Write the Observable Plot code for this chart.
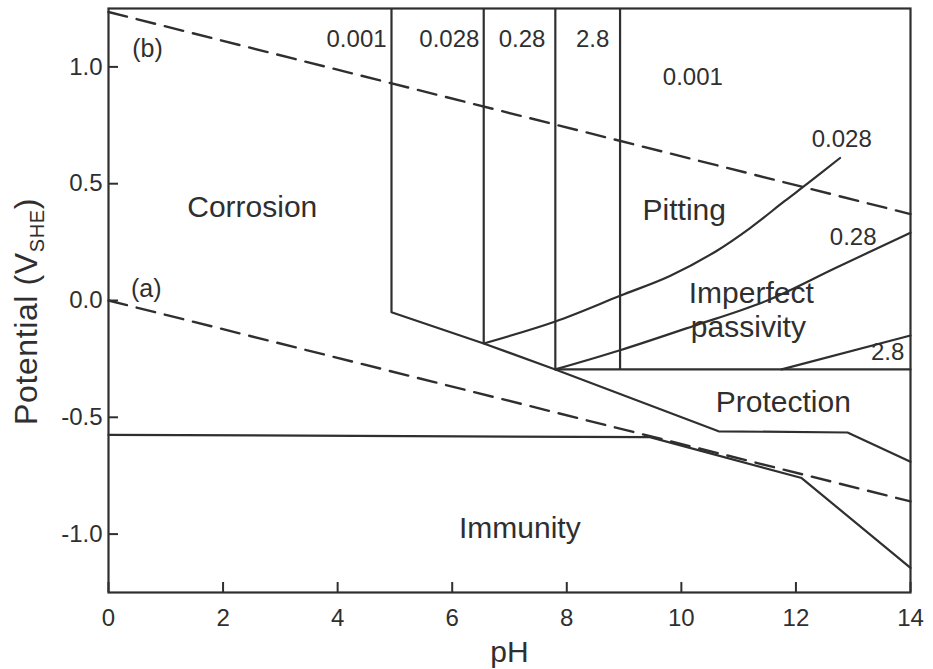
<!DOCTYPE html>
<html><head><meta charset="utf-8">
<script src="https://cdn.jsdelivr.net/npm/d3@7"></script>
<script src="https://cdn.jsdelivr.net/npm/@observablehq/plot@0.6"></script>
<style>body{margin:0;background:#fff;}</style>
</head><body><div id="chart"></div>
<script>
// ---- data (pH, potential V vs SHE) ----
const xTicks = [0, 2, 4, 6, 8, 10, 12, 14];
const yTicks = [-1.0, -0.5, 0.0, 0.5, 1.0];

const waterUpper = [{ph: 0, E: 1.235}, {ph: 14, E: 0.37}];   // (b)
const waterLower = [{ph: 0, E: 0.0}, {ph: 14, E: -0.86}];    // (a)

const pitVerticals = [
  {ph: 4.94, top: 1.25, bottom: -0.05},
  {ph: 6.55, top: 1.25, bottom: -0.184},
  {ph: 7.80, top: 1.25, bottom: -0.295},
  {ph: 8.93, top: 1.25, bottom: -0.295}
];

const passiveBoundary = [
  {ph: 4.94, E: -0.05}, {ph: 6.55, E: -0.184}, {ph: 7.80, E: -0.295},
  {ph: 10.65, E: -0.56}, {ph: 12.9, E: -0.565}, {ph: 14, E: -0.69}
];

const immunityBoundary = [
  {ph: 0, E: -0.575}, {ph: 9.45, E: -0.585}, {ph: 12.1, E: -0.76}, {ph: 14, E: -1.145}
];

const protectionTop = [{ph: 7.80, E: -0.295}, {ph: 14, E: -0.295}];

const curve0028 = [
  {ph: 6.55, E: -0.184}, {ph: 7.80, E: -0.09}, {ph: 8.93, E: 0.02}, {ph: 9.8, E: 0.105},
  {ph: 10.6, E: 0.21}, {ph: 11.2, E: 0.31}, {ph: 11.8, E: 0.425}, {ph: 12.2, E: 0.50},
  {ph: 12.77, E: 0.61}
];

const curve028 = [
  {ph: 7.80, E: -0.295}, {ph: 8.93, E: -0.213}, {ph: 10.2, E: -0.11}, {ph: 11.5, E: 0.0},
  {ph: 12.7, E: 0.14}, {ph: 14, E: 0.29}
];

const line28 = [{ph: 11.75, E: -0.295}, {ph: 14, E: -0.15}];

const concLabels = [
  {text: "0.001", ph: 4.33, E: 1.12},
  {text: "0.028", ph: 5.95, E: 1.12},
  {text: "0.28",  ph: 7.22, E: 1.12},
  {text: "2.8",   ph: 8.45, E: 1.12},
  {text: "0.001", ph: 10.2, E: 0.955},
  {text: "0.028", ph: 12.8, E: 0.69},
  {text: "0.28",  ph: 13.0, E: 0.27},
  {text: "2.8",   ph: 13.6, E: -0.22}
];

const regionLabels = [
  {text: "Corrosion",  ph: 2.51,  E: 0.40},
  {text: "Pitting",    ph: 10.05, E: 0.385},
  {text: "Imperfect",  ph: 11.22, E: 0.03},
  {text: "passivity",  ph: 11.17, E: -0.115},
  {text: "Protection", ph: 11.78, E: -0.435},
  {text: "Immunity",   ph: 7.18,  E: -0.975}
];

const lineTags = [
  {text: "(b)", ph: 0.68, E: 1.075},
  {text: "(a)", ph: 0.66, E: 0.05}
];

const xLabel = "pH";
const yLabel = ["Potential (V", "SHE", ")"];

const ink = "#2f2f2f";
const lineOpts = {x: "ph", y: "E", stroke: ink, strokeWidth: 2.2};
const dashOpts = {x: "ph", y: "E", stroke: ink, strokeWidth: 2.4, strokeDasharray: "19,10"};

const W = 933, H = 669, mL = 108, mR = 23, mT = 8, mB = 77;
const tickLen = 10;

const chart = Plot.plot({
  width: W,
  height: H,
  marginLeft: mL,
  marginRight: mR,
  marginTop: mT,
  marginBottom: mB,
  style: {fontFamily: "'Liberation Sans', Arial, sans-serif", color: ink, background: "#fff"},
  x: {domain: [0, 14]},
  y: {domain: [-1.25, 1.25]},
  marks: [
    Plot.axisX({ticks: xTicks, tickSize: 0, tickPadding: 16, fontSize: 24, label: null}),
    Plot.axisY({ticks: yTicks, tickSize: 0, tickPadding: 6, fontSize: 24, label: null,
                tickFormat: d => d.toFixed(1)}),
    // inward tick marks
    Plot.tickX(xTicks, {x: d => d, stroke: ink, strokeWidth: 2, insetTop: (H - mT - mB) - tickLen}),
    Plot.tickY(yTicks, {y: d => d, stroke: ink, strokeWidth: 2, insetRight: (W - mL - mR) - tickLen}),
    Plot.frame({stroke: ink, strokeWidth: 2.2}),
    Plot.line(waterUpper, dashOpts),
    Plot.line(waterLower, dashOpts),
    Plot.ruleX(pitVerticals, {x: "ph", y1: "top", y2: "bottom", stroke: ink, strokeWidth: 2.2}),
    Plot.line(passiveBoundary, lineOpts),
    Plot.line(immunityBoundary, lineOpts),
    Plot.line(protectionTop, lineOpts),
    Plot.line(curve0028, {...lineOpts, curve: "catmull-rom"}),
    Plot.line(curve028, {...lineOpts, curve: "catmull-rom"}),
    Plot.line(line28, lineOpts),
    Plot.text(concLabels, {x: "ph", y: "E", text: "text", fontSize: 24, fill: ink}),
    Plot.text(regionLabels, {x: "ph", y: "E", text: "text", fontSize: 30, fill: ink}),
    Plot.text(lineTags, {x: "ph", y: "E", text: "text", fontSize: 25, fill: ink}),
    Plot.text([xLabel], {frameAnchor: "bottom", text: d => d, dy: 60, lineAnchor: "middle",
                textAnchor: "middle", fontSize: 30, fill: ink}),
    Plot.text([yLabel.join("")], {frameAnchor: "left", text: d => d, rotate: -90, dx: -82, dy: 11,
                textAnchor: "middle", lineAnchor: "middle", fontSize: 32, fill: ink})
  ]
});

document.getElementById("chart").appendChild(chart);

// subscript for the y label
for (const t of chart.querySelectorAll("text")) {
  if (t.textContent === yLabel.join("")) {
    const s = d3.select(t).text(null).attr("letter-spacing", 0.6);
    s.append("tspan").text(yLabel[0]);
    s.append("tspan").attr("font-size", 20).attr("dy", 7).text(yLabel[1]);
    s.append("tspan").attr("dy", -7).text(yLabel[2]);
  }
}
</script>
</body></html>
